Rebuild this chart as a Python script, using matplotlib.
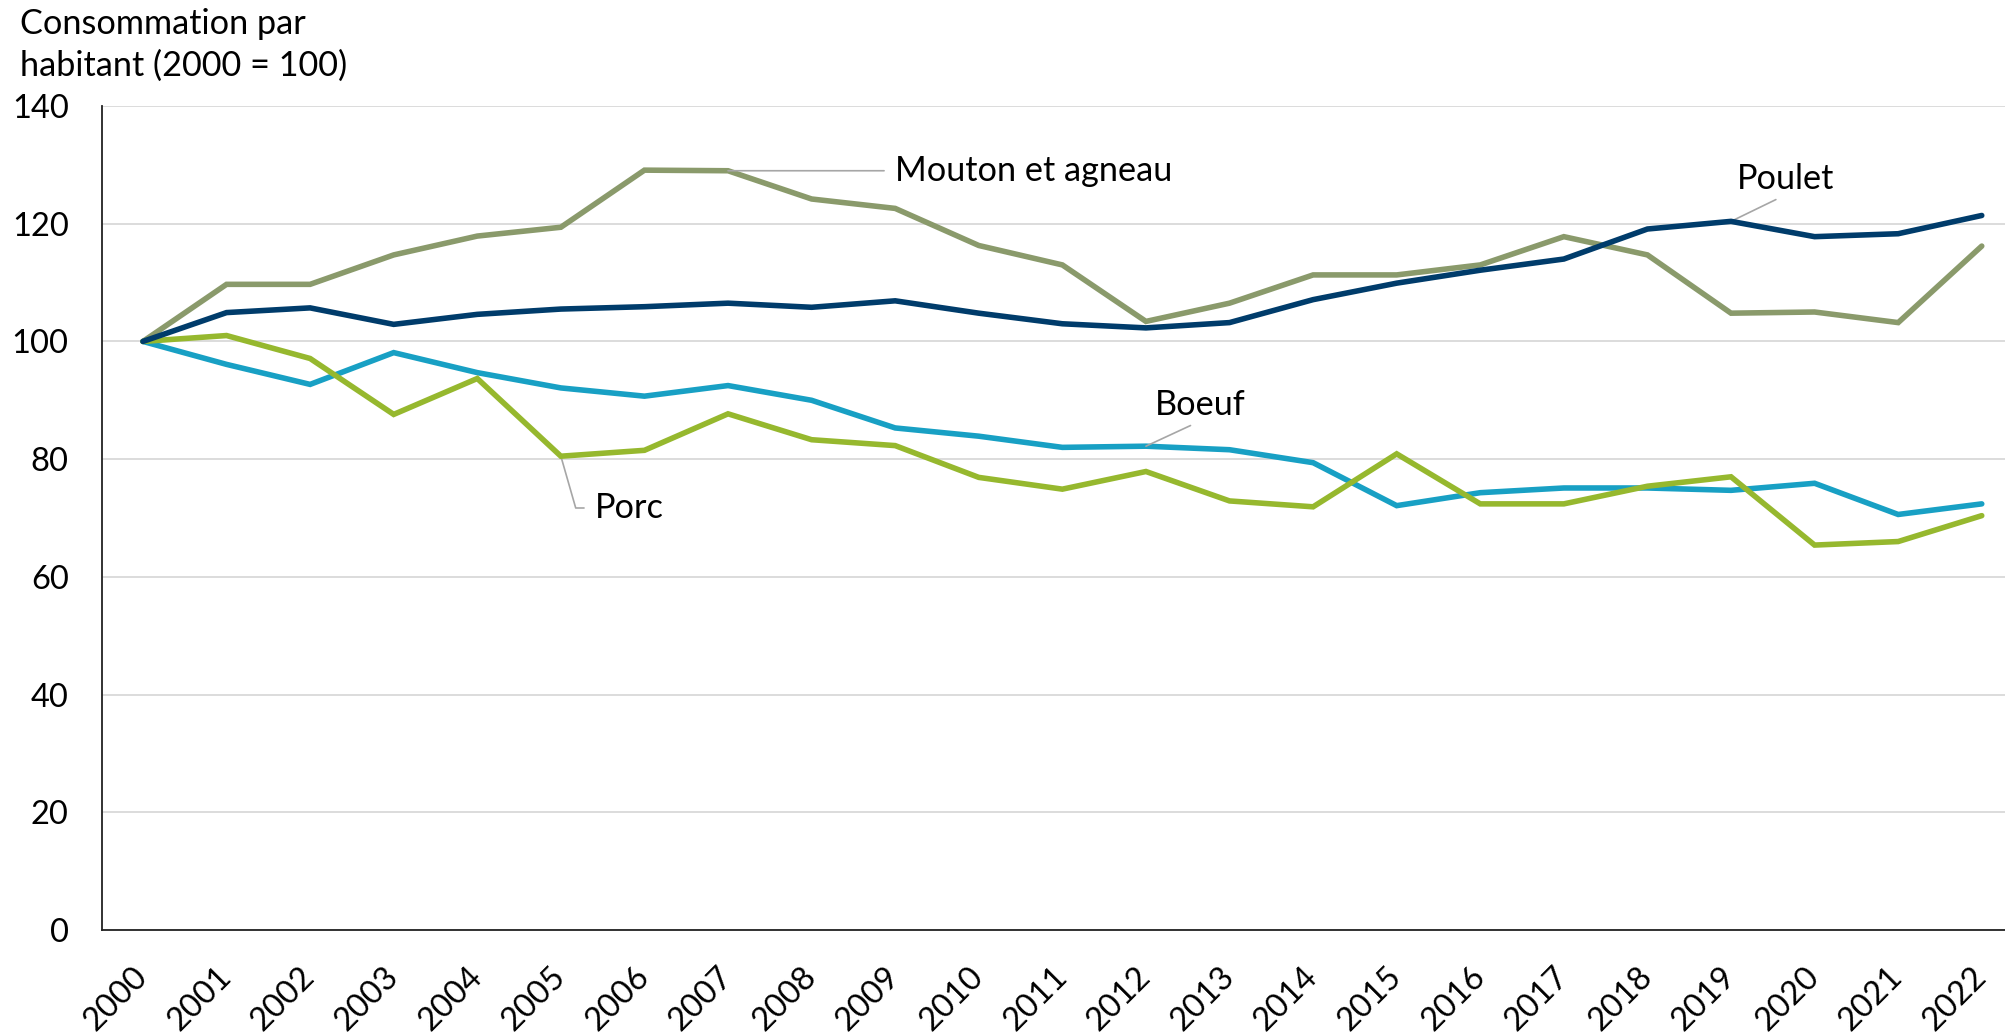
import matplotlib
matplotlib.use("Agg")
from matplotlib import pyplot

# Data #
years = [str(y) for y in range(2000, 2023)]
poulet = [100, 104.9, 105.7, 102.9, 104.6, 105.5, 105.9, 106.5, 105.8, 106.9, 104.8, 103.0,
          102.3, 103.2, 107.1, 109.9, 112.1, 114.0, 119.1, 120.4, 117.8, 118.3, 121.4]
mouton = [100, 109.7, 109.7, 114.7, 117.9, 119.4, 129.1, 129.0, 124.2, 122.6, 116.3, 113.0,
          103.4, 106.5, 111.3, 111.3, 113.0, 117.8, 114.7, 104.8, 105.0, 103.2, 116.2]
boeuf = [100, 96.1, 92.7, 98.1, 94.7, 92.1, 90.7, 92.5, 90.0, 85.3, 83.9, 82.0,
         82.2, 81.6, 79.4, 72.1, 74.3, 75.1, 75.1, 74.7, 75.9, 70.6, 72.4]
porc = [100, 101.0, 97.1, 87.6, 93.7, 80.5, 81.5, 87.7, 83.3, 82.3, 76.9, 74.9,
        77.9, 72.9, 71.9, 80.9, 72.4, 72.4, 75.4, 77.0, 65.4, 66.0, 70.4]
yticks = [0, 20, 40, 60, 80, 100, 120, 140]

# Style #
pyplot.rcParams['font.family'] = ['Lato', 'DejaVu Sans']
pyplot.rcParams['font.size'] = 23.5
label_size = 24.7
c_poulet = '#003c6b'
c_mouton = '#8a9a6b'
c_boeuf = '#18a0c4'
c_porc = '#96b82e'
c_lead = '#a6a6a6'

fig = pyplot.figure(figsize=(20.06, 10.32), dpi=100)
W, H = 2006.0, 1032.0
ax = fig.add_axes([102/W, 1 - 930/H, 1 - 102/W, (930 - 106)/H])

x = list(range(len(years)))
lw = 4.0
ax.plot(x, boeuf, color=c_boeuf, lw=lw, solid_capstyle='round', solid_joinstyle='miter', zorder=3)
ax.plot(x, porc, color=c_porc, lw=lw, solid_capstyle='round', solid_joinstyle='miter', zorder=4)
ax.plot(x, mouton, color=c_mouton, lw=lw, solid_capstyle='round', solid_joinstyle='miter', zorder=3)
ax.plot(x, poulet, color=c_poulet, lw=lw, solid_capstyle='round', solid_joinstyle='miter', zorder=4)

ax.set_xlim(-0.49, 22.29)
ax.set_ylim(0, 140)
ax.set_yticks(yticks)
ax.set_xticks(x)
ax.set_xticklabels(years, rotation=45, ha='right', va='center', rotation_mode='anchor')
ax.tick_params(axis='both', length=0)
ax.tick_params(axis='y', pad=24)
ax.tick_params(axis='x', pad=30)
ax.grid(axis='y', color='#d9d9d9', lw=1.3, zorder=0)
ax.set_axisbelow(True)
for s in ['top', 'right']:
    ax.spines[s].set_visible(False)
for s in ['left', 'bottom']:
    ax.spines[s].set_linewidth(1.3)
    ax.spines[s].set_color('#222222')

# Series labels #
lead = dict(arrowstyle='-', color=c_lead, lw=1.2, shrinkB=0)
ax.annotate('Mouton et agneau', xy=(7, mouton[7]), xytext=(9.0, 129.0), ha='left', va='center',
            fontsize=label_size, arrowprops=dict(lead, shrinkA=6, relpos=(0, 0.5)))
ax.annotate('Poulet', xy=(19, poulet[19]), xytext=(19.65, 127.6), ha='center', va='center',
            fontsize=label_size, arrowprops=dict(lead, shrinkA=3, relpos=(0.5, 0)))
ax.annotate('Boeuf', xy=(12, boeuf[12]), xytext=(12.65, 89.2), ha='center', va='center',
            fontsize=label_size, arrowprops=dict(lead, shrinkA=3, relpos=(0.5, 0)))
ax.annotate('Porc', xy=(5, porc[5]), xytext=(5.41, 71.7), ha='left', va='center',
            fontsize=label_size, arrowprops=dict(lead, shrinkA=6, relpos=(0, 0.5),
                            connectionstyle='angle,angleA=0,angleB=-74,rad=0'))

fig.text(20/W, 1 - 8/H, 'Consommation par\nhabitant (2000 = 100)', ha='left', va='top',
         fontsize=label_size, linespacing=1.35)

fig.savefig('out.png', dpi=100)
